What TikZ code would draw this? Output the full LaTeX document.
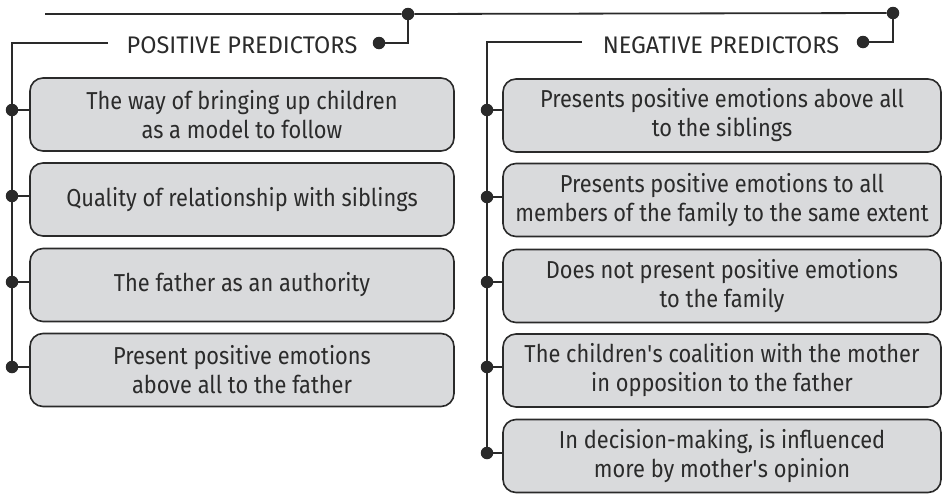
\documentclass[tikz,border=0pt]{standalone}
\usepackage{fontspec}
\setmainfont[FakeStretch=0.89]{Fira Sans}
\newfontfamily\headfont[FakeStretch=0.98]{Fira Sans}
\definecolor{boxfill}{HTML}{D9DADC}
\definecolor{linec}{HTML}{2A2A2A}
\definecolor{txt}{HTML}{2B2B2B}
\begin{document}
\begin{tikzpicture}[x=1pt,y=-1pt,
  item/.style={draw=linec, line width=1.6pt, fill=boxfill, rounded corners=13pt,
    text=txt, align=center, font=\fontsize{24.5}{29}\selectfont, inner sep=0pt,
    minimum height=73pt},
  leftitem/.style={item, minimum width=424pt},
  rightitem/.style={item, minimum width=438pt},
  head/.style={text=txt, font=\headfont\fontsize{24}{27}\selectfont, inner sep=0pt, anchor=base},
  conn/.style={draw=linec, line width=1.8pt},
  dot/.style={circle, fill=linec, inner sep=0pt, minimum size=12.5pt}
]
\useasboundingbox (0,0) rectangle (942,493);

% top line
\coordinate (tstart) at (45,14);
\node[dot] (tdl) at (408,14) {};
\node[dot] (tdr) at (893,13) {};
\draw[conn] (tstart) -- (tdl) -- (tdr);

% positive header
\node[head] (phead) at (242,53) {POSITIVE PREDICTORS};
\node[dot] (phd) at (379,43) {};
\coordinate (pcorner) at (408,43);
\draw[conn] (phd) -- (pcorner) -- (tdl);
\coordinate (plend) at (108,43);
\coordinate (pspine) at (12,43);

% negative header
\node[head] (nhead) at (721,53) {NEGATIVE PREDICTORS};
\node[dot] (nhd) at (863,42) {};
\coordinate (ncorner) at (893,42);
\draw[conn] (nhd) -- (ncorner) -- (tdr);
\coordinate (nlend) at (582,42);
\coordinate (nspine) at (487,42);

% positive items
\node[leftitem] (p1) at (242,114.5) {The way of bringing up children\\as a model to follow};
\node[leftitem] (p2) at (242,199.5) {Quality of relationship with siblings};
\node[leftitem] (p3) at (242,285) {The father as an authority};
\node[leftitem] (p4) at (242,370) {Present positive emotions\\above all to the father};

\node[dot] (pd1) at (12,110) {};
\node[dot] (pd2) at (12,196) {};
\node[dot] (pd3) at (12,282) {};
\node[dot] (pd4) at (12,367) {};
\draw[conn] (plend) -- (pspine) -- (pd4);
\foreach \i in {1,2,3,4} \draw[conn] (pd\i) -- (pd\i -| p\i.west);

% negative items
\node[rightitem] (n1) at (722,115.5) {Presents positive emotions above all\\to the siblings};
\node[rightitem] (n2) at (722,200) {Presents positive emotions to all\\members of the family to the same extent};
\node[rightitem] (n3) at (722,286) {Does not present positive emotions\\to the family};
\node[rightitem] (n4) at (722,370.5) {The children\textquotesingle s coalition with the mother\\in opposition to the father};
\node[rightitem] (n5) at (722,456) {In decision-making, is influenced\\more by mother\textquotesingle s opinion};

\node[dot] (nd1) at (487,110) {};
\node[dot] (nd2) at (487,197) {};
\node[dot] (nd3) at (487,282) {};
\node[dot] (nd4) at (487,367) {};
\node[dot] (nd5) at (487,453) {};
\draw[conn] (nlend) -- (nspine) -- (nd5);
\foreach \i in {1,2,3,4,5} \draw[conn] (nd\i) -- (nd\i -| n\i.west);
\end{tikzpicture}
\end{document}
